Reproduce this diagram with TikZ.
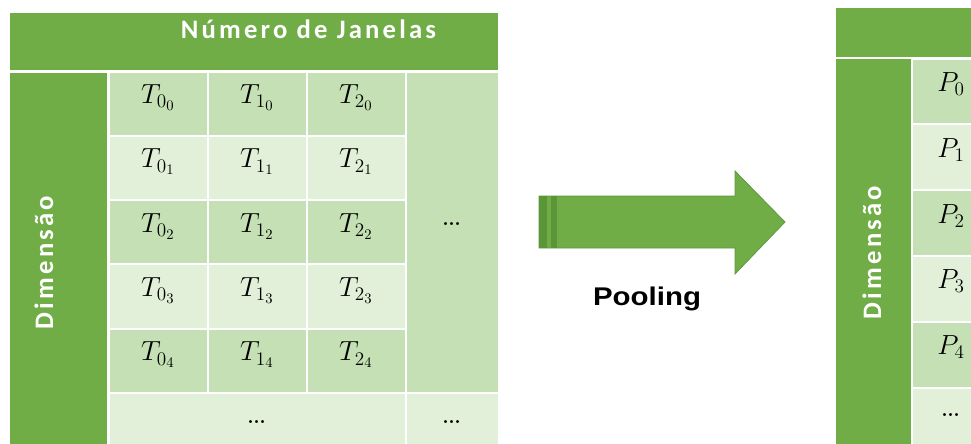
\documentclass[tikz,border=0pt]{standalone}
\usepackage{fontspec}
\usepackage{xcolor}
\usepackage{tikz}
\usetikzlibrary{positioning}

\newfontfamily\headfont[LetterSpace=12]{Carlito}
\newfontfamily\poolfont[FakeStretch=1.15]{Liberation Sans}
\definecolor{hdgreen}{HTML}{70AD47}
\definecolor{celldark}{HTML}{C5E0B4}
\definecolor{celllight}{HTML}{E2F0D9}
\definecolor{arrowedge}{HTML}{5E9A3E}
\definecolor{stripegreen}{HTML}{5A9637}

\begin{document}
\begin{tikzpicture}[x=0.75pt,y=-0.75pt,
 box/.style={draw=white,line width=1.5pt,inner sep=0pt,outer sep=0pt},
 head/.style={box,fill=hdgreen},
 cell/.style={box,minimum width=74.25pt,minimum height=48.2pt,font=\fontsize{21}{23}\selectfont,text height=6pt,text depth=6pt},
 rcell/.style={cell,minimum width=59.25pt,minimum height=49.35pt},
 dark/.style={fill=celldark},
 light/.style={fill=celllight},
 dotcell/.style={box,font=\fontsize{27}{29}\selectfont,text height=2pt,text depth=12.5pt},
 title/.style={text=white,font=\headfont\bfseries\fontsize{20}{23}\selectfont,inner sep=0pt}]
\useasboundingbox (0,0) rectangle (971,443);
% left table
\node[head,minimum width=367.5pt,minimum height=44.6pt] (lhead) at (254,41.75) {};
\node[title,anchor=base] (lheadtxt) at (308.5,38.3) {Número de Janelas};
\node[head,minimum width=74.6pt,minimum height=289.1pt] (ldim) at (58.75,264.25) {};
\node[title,rotate=90,anchor=base] (ldimtxt) at (53,262.5) {Dimensão};
\node[cell,dark] (t00) at (158,103.65) {$T_{0_0}$};
\node[cell,dark] (t10) at (257,103.65) {$T_{1_0}$};
\node[cell,dark] (t20) at (356,103.65) {$T_{2_0}$};
\node[cell,light] (t01) at (158,167.95) {$T_{0_1}$};
\node[cell,light] (t11) at (257,167.95) {$T_{1_1}$};
\node[cell,light] (t21) at (356,167.95) {$T_{2_1}$};
\node[cell,dark] (t02) at (158,232.25) {$T_{0_2}$};
\node[cell,dark] (t12) at (257,232.25) {$T_{1_2}$};
\node[cell,dark] (t22) at (356,232.25) {$T_{2_2}$};
\node[cell,light] (t03) at (158,296.55) {$T_{0_3}$};
\node[cell,light] (t13) at (257,296.55) {$T_{1_3}$};
\node[cell,light] (t23) at (356,296.55) {$T_{2_3}$};
\node[cell,dark] (t04) at (158,360.85) {$T_{0_4}$};
\node[cell,dark] (t14) at (257,360.85) {$T_{1_4}$};
\node[cell,dark] (t24) at (356,360.85) {$T_{2_4}$};
\node[dotcell,dark,minimum width=70.1pt,minimum height=241.1pt] (tmore) at (452.25,232.25) {\ldots};
\node[dotcell,light,minimum width=222.75pt,minimum height=48.2pt,text depth=4pt] (tlast) at (257,425.15) {\ldots};
\node[dotcell,light,minimum width=70.1pt,minimum height=48.2pt,text depth=4pt] (tcorner) at (452.25,425.15) {\ldots};
% pooling arrow
\coordinate (ain) at (539,222);
\coordinate (aout) at (785,222);
\draw[fill=hdgreen,draw=arrowedge,line width=0.6pt,line join=miter]
 (ain) ++(0,-26) -- (735,196) -- (735,171) -- (aout) -- (735,274) -- (735,248) -- (539,248) -- cycle;
\fill[stripegreen] (539,196) rectangle (547,248);
\fill[stripegreen] (550.5,196) rectangle (557,248);
\node[font=\poolfont\bfseries\fontsize{19.2}{22}\selectfont,anchor=base,inner sep=0pt] (pool) at (647,305) {Pooling};
% right table
\node[head,minimum width=123.75pt,minimum height=38.6pt] (rhead) at (917.5,32.75) {};
\node[head,minimum width=57.4pt,minimum height=298.9pt] (rdim) at (873.25,257.75) {};
\node[title,rotate=90,anchor=base] (rdimtxt) at (881,252.5) {Dimensão};
\node[rcell,dark] (p0) at (951,91.4) {$P_0$};
\node[rcell,light] (p1) at (951,157.2) {$P_1$};
\node[rcell,dark] (p2) at (951,223) {$P_2$};
\node[rcell,light] (p3) at (951,288.8) {$P_3$};
\node[rcell,dark] (p4) at (951,354.6) {$P_4$};
\node[dotcell,light,minimum width=59.25pt,minimum height=49.35pt,text depth=8pt] (pmore) at (951,420.4) {\ldots};
\end{tikzpicture}
\end{document}
